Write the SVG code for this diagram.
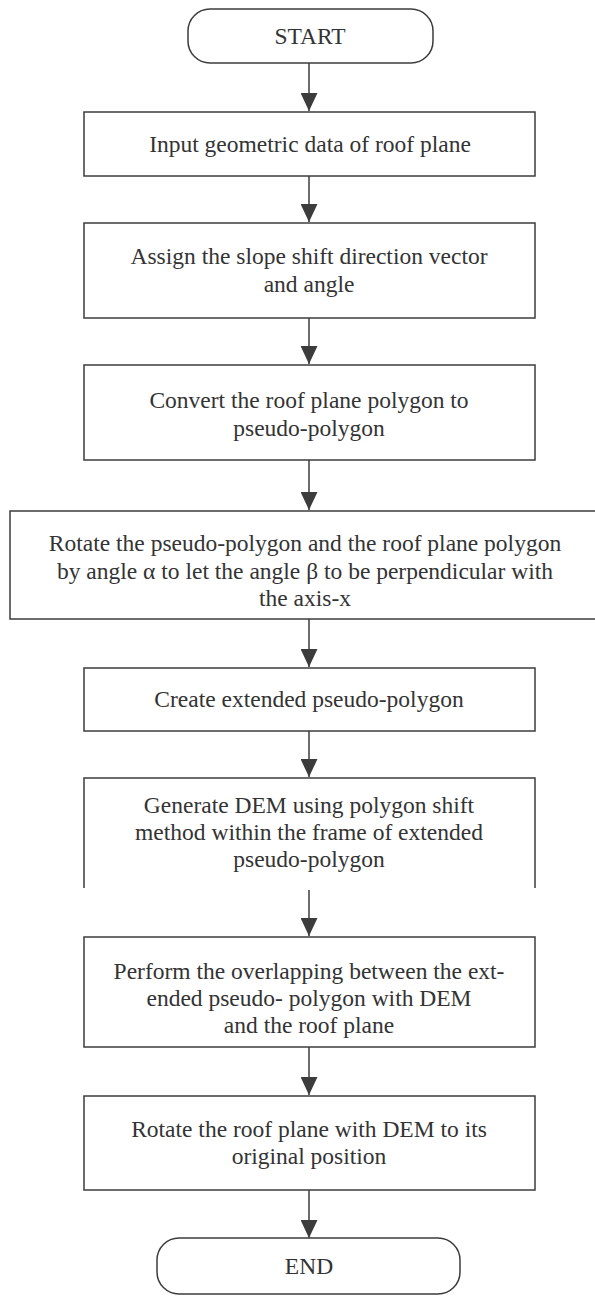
<svg xmlns="http://www.w3.org/2000/svg" width="595" height="1299" viewBox="0 0 595 1299">
<style>
.box{fill:#fff;stroke:#3c3c3c;stroke-width:1.5}
.side{fill:none;stroke:#3c3c3c;stroke-width:1.5}
.t{font-family:"Liberation Serif","Times New Roman",serif;font-size:23.5px;fill:#333;text-anchor:middle}
.c{stroke:#3c3c3c;stroke-width:1.5;fill:none}
</style>
<defs>
<marker id="ah" markerUnits="userSpaceOnUse" viewBox="0 0 18 17" refX="18" refY="8.5" markerWidth="18" markerHeight="17" orient="auto">
<path d="M0,0 L18,8.5 L0,17 z" fill="#3c3c3c"/>
</marker>
</defs>
<rect width="595" height="1299" fill="#fff"/>
<g id="connectors">
<line class="c" x1="309" y1="63" x2="309" y2="111" marker-end="url(#ah)"/>
<line class="c" x1="309" y1="176" x2="309" y2="222" marker-end="url(#ah)"/>
<line class="c" x1="309" y1="318" x2="309" y2="364" marker-end="url(#ah)"/>
<line class="c" x1="309" y1="460" x2="309" y2="510" marker-end="url(#ah)"/>
<line class="c" x1="309" y1="619" x2="309" y2="667" marker-end="url(#ah)"/>
<line class="c" x1="309" y1="731" x2="309" y2="777" marker-end="url(#ah)"/>
<line class="c" x1="309" y1="890" x2="309" y2="936" marker-end="url(#ah)"/>
<line class="c" x1="309" y1="1047" x2="309" y2="1095" marker-end="url(#ah)"/>
<line class="c" x1="309" y1="1190" x2="309" y2="1238" marker-end="url(#ah)"/>
</g>
<g id="start">
<rect class="box" x="188" y="9" width="245" height="54" rx="22"/>
<text class="t" x="310" y="44">START</text>
</g>
<g id="n1">
<rect class="box" x="84" y="112" width="451" height="64"/>
<text class="t" x="310" y="152">Input geometric data of roof plane</text>
</g>
<g id="n2">
<rect class="box" x="84" y="223" width="451" height="95"/>
<text class="t" x="309" y="264">Assign the slope shift direction vector</text>
<text class="t" x="309" y="292">and angle</text>
</g>
<g id="n3">
<rect class="box" x="84" y="365" width="451" height="95"/>
<text class="t" x="309" y="408">Convert the roof plane polygon to</text>
<text class="t" x="309" y="436">pseudo-polygon</text>
</g>
<g id="n4">
<rect class="box" x="10" y="511" width="600" height="108"/>
<text class="t" x="305" y="551">Rotate the pseudo-polygon and the roof plane polygon</text>
<text class="t" x="305" y="579">by angle α to let the angle β to be perpendicular with</text>
<text class="t" x="305" y="606">the axis-x</text>
</g>
<g id="n5">
<rect class="box" x="84" y="668" width="451" height="63"/>
<text class="t" x="309" y="707">Create extended pseudo-polygon</text>
</g>
<g id="n6">
<path class="side" d="M84,888 V778 H535 V888"/>
<text class="t" x="309" y="813">Generate DEM using polygon shift</text>
<text class="t" x="309" y="840">method within the frame of extended</text>
<text class="t" x="309" y="867">pseudo-polygon</text>
</g>
<g id="n7">
<rect class="box" x="84" y="937" width="451" height="110"/>
<text class="t" x="309" y="979">Perform the overlapping between the ext-</text>
<text class="t" x="309" y="1006">ended pseudo- polygon with DEM</text>
<text class="t" x="309" y="1033">and the roof plane</text>
</g>
<g id="n8">
<rect class="box" x="84" y="1096" width="451" height="94"/>
<text class="t" x="309" y="1137">Rotate the roof plane with DEM to its</text>
<text class="t" x="309" y="1164">original position</text>
</g>
<g id="end">
<rect class="box" x="157" y="1238" width="303" height="56" rx="22"/>
<text class="t" x="309" y="1274">END</text>
</g>
</svg>
